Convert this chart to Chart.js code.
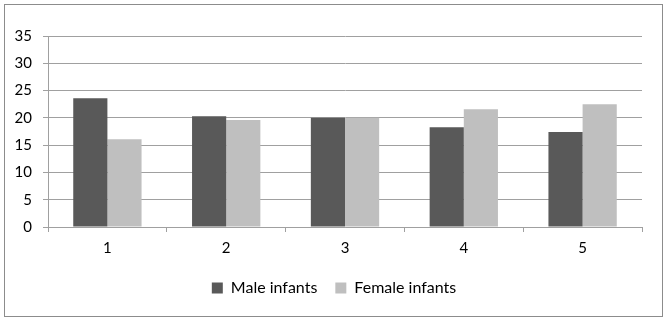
<!DOCTYPE html>
<html>
<head>
<meta charset="utf-8">
<script src="https://cdn.jsdelivr.net/npm/chart.js@4/dist/chart.umd.min.js"></script>
<style>
  body { margin: 0; background: #fff; }
  #wrap { position: relative; width: 668px; height: 321px; }
  #frame { position: absolute; left: 4px; top: 4px; width: 657px; height: 311px; border: 1px solid #8c8c8c; pointer-events: none; }
</style>
</head>
<body>
<div id="wrap">
  <canvas id="infantChart" width="668" height="321"></canvas>
  <div id="frame"></div>
</div>
<script>
var ctx = document.getElementById("infantChart").getContext('2d');

// Define the data
var labels = ["1", "2", "3", "4", "5"];
var maleInfants = [23.6, 20.3, 20.0, 18.3, 17.4];
var femaleInfants = [16.1, 19.6, 20.0, 21.6, 22.5];
var yTicks = [0, 5, 10, 15, 20, 25, 30, 35];
// End Defining data

var fontFamily = "Lato, 'Open Sans', sans-serif";

var infantChart = new Chart(ctx, {
    type: 'bar',
    data: {
        labels: labels,
        datasets: [{
            label: 'Male infants',
            data: maleInfants,
            backgroundColor: '#595959',
            borderWidth: 0
        }, {
            label: 'Female infants',
            data: femaleInfants,
            backgroundColor: '#bfbfbf',
            borderWidth: 0
        }]
    },
    options: {
        responsive: false,
        animation: false,
        layout: { padding: { left: 0, right: 0, top: 36, bottom: 15 } },
        datasets: {
            bar: { categoryPercentage: 0.575, barPercentage: 1.0 }
        },
        plugins: {
            tooltip: { enabled: false },
            legend: {
                position: 'bottom',
                labels: {
                    color: '#000',
                    font: { family: fontFamily, size: 16 },
                    boxWidth: 11,
                    boxHeight: 11,
                    padding: 18
                }
            }
        },
        scales: {
            x: {
                offset: true,
                grid: { display: true, drawOnChartArea: false, offset: true, color: '#a0a0a0', tickLength: 5 },
                border: { color: '#a0a0a0' },
                ticks: { color: '#000', font: { family: fontFamily, size: 15 }, padding: 7 },
                afterFit: function (scale) { scale.height = 35; }
            },
            y: {
                min: 0,
                max: 35,
                afterBuildTicks: function (scale) {
                    scale.ticks = yTicks.map(function (v) { return { value: v }; });
                },
                grid: { color: '#a0a0a0', tickLength: 5 },
                border: { color: '#a0a0a0' },
                ticks: { color: '#000', font: { family: fontFamily, size: 15 }, padding: 11 },
                afterFit: function (scale) { scale.width = 48; }
            },
            // empty right-hand axis, only reserves space so the legend stays centred
            yRight: {
                position: 'right',
                min: 0,
                max: 35,
                grid: { display: false },
                border: { display: false },
                ticks: { display: false },
                afterFit: function (scale) { scale.width = 26; }
            }
        }
    }
});
</script>
</body>
</html>
